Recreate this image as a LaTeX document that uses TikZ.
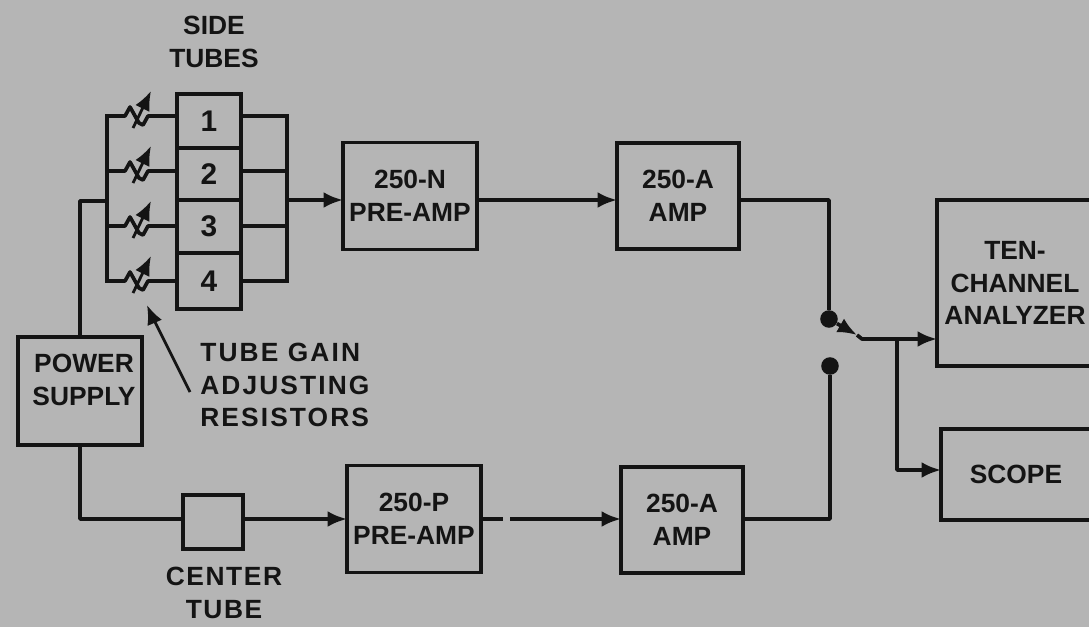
\documentclass[tikz,border=0pt]{standalone}
\usepackage{fontspec}
\setmainfont{Liberation Sans}
\usetikzlibrary{arrows.meta}
\definecolor{paper}{gray}{0.71}
\definecolor{ink}{gray}{0.08}
\tikzset{box/.style={draw=ink, line width=2.1pt, inner sep=0pt, outer sep=0pt, align=center, text=ink, font=\fontsize{15}{18.5}\selectfont\bfseries}}
\tikzset{l/.style={inner sep=0pt, align=center, text=ink, font=\fontsize{15}{18.5}\selectfont\bfseries}}
\tikzset{m/.style={font=\fontsize{17}{18.5}\selectfont\bfseries}}
\tikzset{wire/.style={draw=ink, line width=2.1pt, line join=round, >={Latex[length=11pt,width=9pt]}}}
\tikzset{thin wire/.style={wire, line width=1.6pt}}
\tikzset{dot/.style={circle, fill=ink, inner sep=0pt, minimum size=10pt}}

\begin{document}
\begin{tikzpicture}[x=0.02cm, y=-0.02cm]
        \useasboundingbox [fill=paper] (0,0) rectangle (1089,627);
        % tubes
        \node [box, m, minimum width=64*0.02cm, minimum height=54*0.02cm] (T1) at (209,121) {1};
        \node [box, m, minimum width=64*0.02cm, minimum height=52*0.02cm] (T2) at (209,174) {2};
        \node [box, m, minimum width=64*0.02cm, minimum height=53*0.02cm] (T3) at (209,226.5) {3};
        \node [box, m, minimum width=64*0.02cm, minimum height=56*0.02cm] (T4) at (209,281) {4};
        \node [l] (side) at (214,42) {SIDE\\TUBES};
        \node [box, minimum width=60*0.02cm, minimum height=54*0.02cm] (C) at (213,522) {};
        \node [l] (center) at (224,593) {\addfontfeature{LetterSpace=6}CENTER\\\addfontfeature{LetterSpace=6}TUBE};
        % boxes
        \node [box, minimum width=124*0.02cm, minimum height=108*0.02cm] (P) at (80,391) {};
        \node [l] (Ptext) at (84,380) {POWER\\SUPPLY};
        \node [box, minimum width=134*0.02cm, minimum height=107*0.02cm] (NA) at (410,196) {250-N\\PRE-AMP};
        \node [box, minimum width=122*0.02cm, minimum height=106*0.02cm] (A1) at (678,196) {250-A\\AMP};
        \node [box, minimum width=134*0.02cm, minimum height=107*0.02cm] (PA) at (414,519) {250-P\\PRE-AMP};
        \node [box, minimum width=122*0.02cm, minimum height=106*0.02cm] (A2) at (682,520) {250-A\\AMP};
        \node [box, minimum width=156*0.02cm, minimum height=166*0.02cm] (TEN) at (1015,283) {TEN-\\CHANNEL\\ANALYZER};
        \node [box, minimum width=150*0.02cm, minimum height=91*0.02cm] (S) at (1016,474.5) {SCOPE};
        \node [l, align=left, anchor=west] (gain) at (200,385) {\addfontfeature{LetterSpace=8}TUBE GAIN\\\addfontfeature{LetterSpace=8}ADJUSTING\\\addfontfeature{LetterSpace=8}RESISTORS};
        % side tube wiring
        \foreach \n/\y in {1/116, 2/171, 3/226, 4/281} {
          \coordinate (L\n) at (107,\y);
          \coordinate (R\n) at (287,\y);
          \draw [wire] (L\n) -- ++(18,0) -- ++(5,-9) -- ++(9,16) -- ++(4,2) -- ++(5,-9) -- (T\n.west |- R\n);
          \draw [wire] (T\n.east |- R\n) -- (R\n);
          \draw [thin wire, ->] (133,\y+12) -- (151,\y-25);
        }
        \draw [wire, line cap=rect] (L1) -- (L4);
        \draw [wire, line cap=rect] (R1) -- (R4);
        \coordinate (Lin) at (107,201);
        \coordinate (Rout) at (287,200);
        \draw [wire] (P.north -| 80,0) |- (Lin);
        \draw [wire, ->] (Rout) -- (NA.west |- Rout);
        \draw [wire, ->] (NA.east |- Rout) -- (A1.west |- Rout);
        % center tube wiring
        \draw [wire] (P.south -| 80,0) |- (C.west |- 0,519);
        \coordinate (Cout) at (C.east |- 0,519);
        \coordinate (gap1) at (503,519);
        \coordinate (gap2) at (510,519);
        \draw [wire, ->] (Cout) -- (PA.west |- Cout);
        \draw [wire] (PA.east |- Cout) -- (gap1);
        \draw [wire, ->] (gap2) -- (A2.west |- Cout);
        % switch
        \node [dot] (sw1) at (829,319) {};
        \node [dot] (sw2) at (830,366) {};
        \coordinate (swm) at (857,335);
        \coordinate (J) at (897,339);
        \draw [wire] (A1.east |- Rout) -| (sw1);
        \draw [wire] (A2.east |- Cout) -| (sw2);
        \draw [wire, ->] (sw1) -- (swm);
        \draw [wire] (swm) -- (862,339) -- (J);
        \draw [wire, ->] (J) -- (TEN.west |- J);
        \draw [wire, ->] (J) |- (S.west |- 0,470);
        % resistor pointer
        \coordinate (g) at (190,392);
        \draw [thin wire, ->] (g) -- (150,312) -- (147,305);
\end{tikzpicture}
\end{document}
